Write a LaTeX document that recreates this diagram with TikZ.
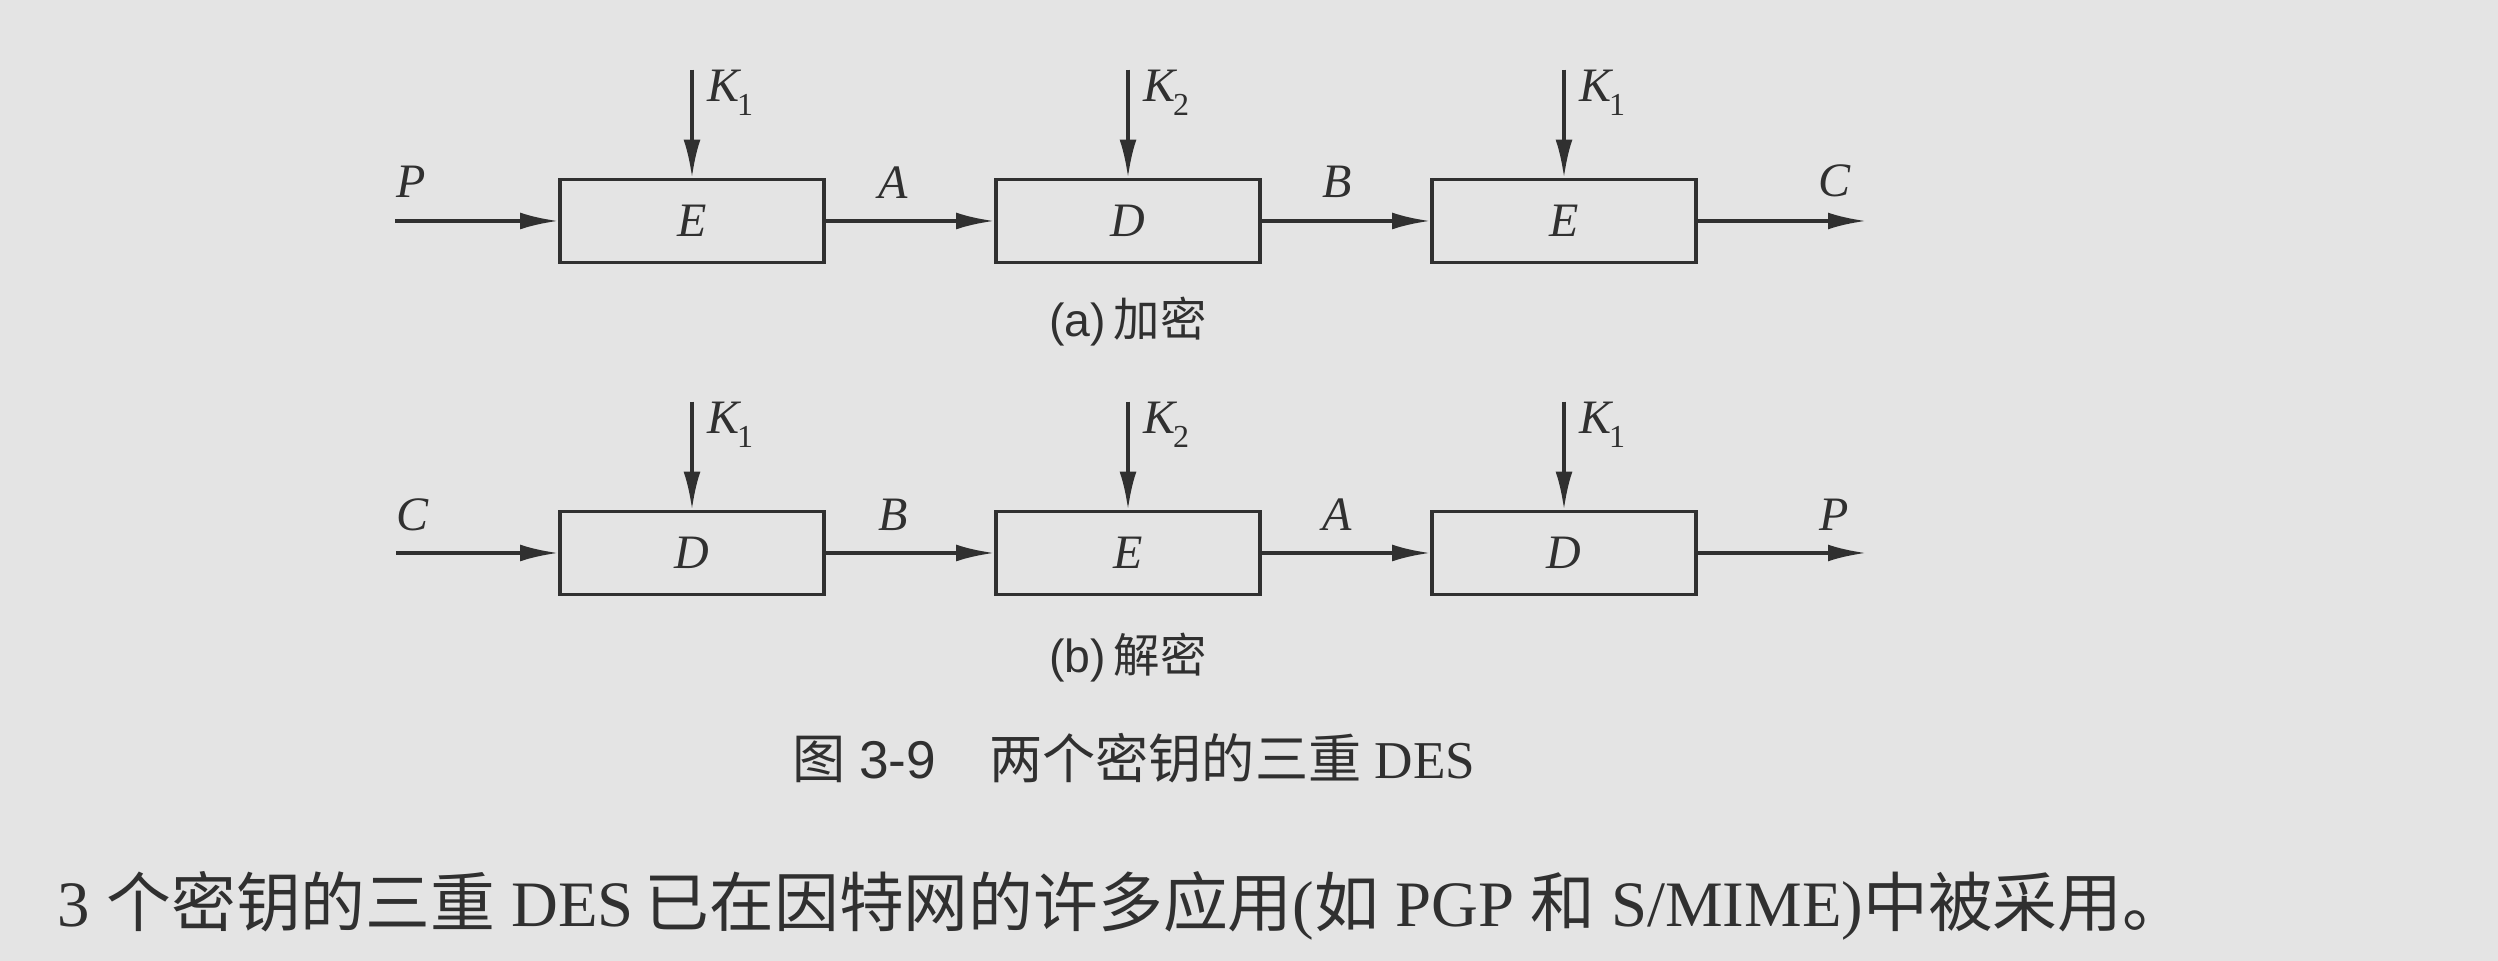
\documentclass[tikz,border=0pt]{standalone}
\usepackage{fontspec}
\setmainfont{Liberation Serif}
\setsansfont{Liberation Sans}
\newfontfamily\cjk{Noto Sans CJK SC}
\usetikzlibrary{positioning,calc,arrows.meta}

\definecolor{ink}{HTML}{303030}
\definecolor{paper}{HTML}{E4E4E4}
\newcommand{\klab}[1]{\textit{K}\kern-0.5pt\raisebox{-3.3pt}{\fontsize{8}{8}\selectfont\upshape #1}}

\begin{document}
\begin{tikzpicture}[x=1pt,y=1pt,>={Latex[length=9.5pt,width=4.2pt]}]
    \tikzstyle{every node}=[inner sep=0,text=ink]
    \tikzstyle{block}=[draw=ink,line width=0.9pt,rectangle,minimum width=66,minimum height=20.75,font=\fontsize{12}{12}\selectfont\itshape]
    \tikzstyle{note}=[font=\fontsize{12}{12}\selectfont\itshape]
    \tikzstyle{conn}=[->,color=ink,line width=0.9pt]
    \tikzstyle{sub}=[font=\fontsize{11.6}{11.6}\selectfont\sffamily]

    \fill[paper] (0,0) rectangle (624.5,240.25);
    \useasboundingbox (0,0) rectangle (624.5,240.25);

    % (a) encryption
    \node[block] (ea1) at (173,185) {E};
    \node[block,node distance=109pt] (da1) [right of=ea1] {D};
    \node[block,node distance=109pt] (ea2) [right of=da1] {E};
    \coordinate (pina) at (98.75,185);
    \coordinate (cout) at (466.5,185);
    \coordinate (ka1) at ($(ea1.north)+(0,27)$);
    \coordinate (ka2) at ($(da1.north)+(0,27)$);
    \coordinate (ka3) at ($(ea2.north)+(0,27)$);

    \path[conn]
        (pina) edge (ea1)
        (ea1) edge (da1)
        (da1) edge (ea2)
        (ea2) edge (cout)
        (ka1) edge (ea1.north)
        (ka2) edge (da1.north)
        (ka3) edge (ea2.north);

    \node[note] (pa) at ($(pina)+(4,9.75)$) {P};
    \node[note] (aa) at ($(ea1.east)!0.4!(da1.west)+(0,9.5)$) {A};
    \node[note] (ba) at ($(da1.east)!0.45!(ea2.west)+(0,9.75)$) {B};
    \node[note] (ca) at ($(ea2.east)!0.81!(cout)+(0,10)$) {C};
    \node[note,anchor=north west] (ka1l) at ($(ka1)+(3.6,0)$) {\klab{1}};
    \node[note,anchor=north west] (ka2l) at ($(ka2)+(3.6,0)$) {\klab{2}};
    \node[note,anchor=north west] (ka3l) at ($(ka3)+(3.6,0)$) {\klab{1}};
    \node[sub] (capa) at ($(da1)+(0,-25.25)$) {(a)\,{\cjk 加密}};

    % (b) decryption
    \node[block] (db1) at (173,102) {D};
    \node[block,node distance=109pt] (eb1) [right of=db1] {E};
    \node[block,node distance=109pt] (db2) [right of=eb1] {D};
    \coordinate (cinb) at (99,102);
    \coordinate (pout) at (466.5,102);
    \coordinate (kb1) at ($(db1.north)+(0,27)$);
    \coordinate (kb2) at ($(eb1.north)+(0,27)$);
    \coordinate (kb3) at ($(db2.north)+(0,27)$);

    \path[conn]
        (cinb) edge (db1)
        (db1) edge (eb1)
        (eb1) edge (db2)
        (db2) edge (pout)
        (kb1) edge (db1.north)
        (kb2) edge (eb1.north)
        (kb3) edge (db2.north);

    \node[note] (cb) at ($(cinb)+(4.25,9.5)$) {C};
    \node[note] (bb) at ($(db1.east)!0.4!(eb1.west)+(0,9.5)$) {B};
    \node[note] (ab) at ($(eb1.east)!0.45!(db2.west)+(0,9.5)$) {A};
    \node[note] (pb) at ($(db2.east)!0.81!(pout)+(0,9.5)$) {P};
    \node[note,anchor=north west] (kb1l) at ($(kb1)+(3.6,0)$) {\klab{1}};
    \node[note,anchor=north west] (kb2l) at ($(kb2)+(3.6,0)$) {\klab{2}};
    \node[note,anchor=north west] (kb3l) at ($(kb3)+(3.6,0)$) {\klab{1}};
    \node[sub] (capb) at ($(eb1)+(0,-26.25)$) {(b)\,{\cjk 解密}};

    % caption and text
    \node[font=\fontsize{13.3}{13.3}\selectfont] (fig) at (283.5,50.75)
        {{\cjk 图}\ {\sffamily 3-9}\hspace{1em}{\cjk 两个密钥的三重}\ DES};
    \node[font=\fontsize{16.2}{16.2}\selectfont,anchor=west] (body) at (14.25,13.75)
        {3\ {\cjk 个密钥的三重}\ DES\,{\cjk 已在因特网的许多应用}({\cjk 如}\ PGP\ {\cjk 和}\ S/MIME){\cjk 中被采用。}};
\end{tikzpicture}
\end{document}
